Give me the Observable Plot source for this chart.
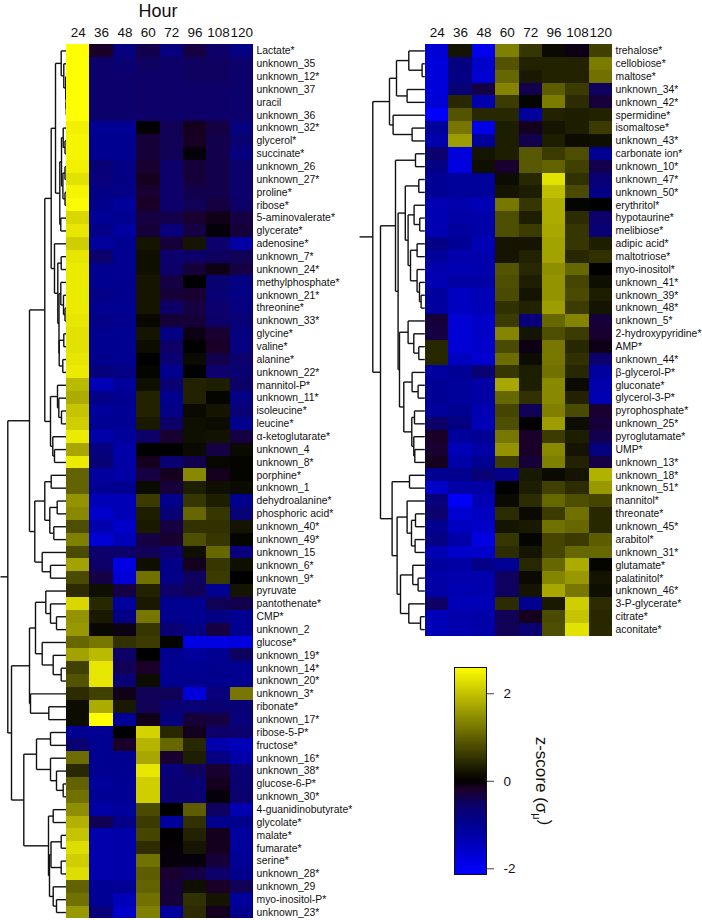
<!DOCTYPE html>
<html><head><meta charset="utf-8">
<style>html,body{margin:0;padding:0;background:#fff}#page{position:relative;width:702px;height:920px;overflow:hidden}#page svg{position:absolute;overflow:visible;background:transparent}</style>
<script src="https://cdn.jsdelivr.net/npm/d3@7"></script>
<script src="https://cdn.jsdelivr.net/npm/@observablehq/plot@0.6"></script>
</head><body><div id="page"></div>
<script>
const hours = ["24","36","48","60","72","96","108","120"];

const leftNames = ["Lactate*","unknown_35","unknown_12*","unknown_37","uracil","unknown_36","unknown_32*","glycerol*","succinate*","unknown_26","unknown_27*","proline*","ribose*","5-aminovalerate*","glycerate*","adenosine*","unknown_7*","unknown_24*","methylphosphate*","unknown_21*","threonine*","unknown_33*","glycine*","valine*","alanine*","unknown_22*","mannitol-P*","unknown_11*","isoleucine*","leucine*","α-ketoglutarate*","unknown_4","unknown_8*","porphine*","unknown_1","dehydroalanine*","phosphoric acid*","unknown_40*","unknown_49*","unknown_15","unknown_6*","unknown_9*","pyruvate","pantothenate*","CMP*","unknown_2","glucose*","unknown_19*","unknown_14*","unknown_20*","unknown_3*","ribonate*","unknown_17*","ribose-5-P*","fructose*","unknown_16*","unknown_38*","glucose-6-P*","unknown_30*","4-guanidinobutyrate*","glycolate*","malate*","fumarate*","serine*","unknown_28*","unknown_29","myo-inositol-P*","unknown_23*"];

const leftValues = [
[2.6,-.2,-.8,-.4,-.8,-.35,-.55,-.85],
[2.6,-.6,-.65,-.5,-.55,-.5,-.5,-.6],
[2.6,-.6,-.6,-.55,-.55,-.5,-.5,-.6],
[2.6,-.6,-.6,-.55,-.55,-.55,-.55,-.6],
[2.6,-.6,-.6,-.55,-.55,-.55,-.55,-.6],
[2.6,-.6,-.6,-.55,-.55,-.55,-.55,-.6],
[2.45,-1.05,-1.05,-.02,-.45,-.15,-.35,-.8],
[2.5,-1,-1,-.3,-.45,-.18,-.4,-.65],
[2.5,-1,-1,-.3,-.45,-.05,-.4,-.8],
[2.45,-.7,-.85,-.25,-.6,-.3,-.4,-.6],
[2.3,-.75,-.85,-.15,-.6,-.3,-.4,-.6],
[2.5,-.85,-.9,-.25,-.6,-.4,-.4,-.6],
[2.55,-.95,-1.1,-.2,-.6,-.45,-.35,-.55],
[2.2,-1.05,-1,-.35,-.4,-.25,-.12,-.35],
[2.35,-.9,-1.15,-.3,-.75,-.35,-.05,-.3],
[2.1,-1.1,-1,.2,-.3,.2,-.6,-1.2],
[2.35,-.6,-1,.15,-.6,-.55,-.5,-.45],
[2.4,-1,-1,.15,-.55,-.3,-.1,-.35],
[2.4,-1,-.95,.2,-.35,0,-.65,-.85],
[2.4,-.9,-.95,.2,-.3,-.25,-.7,-.85],
[2.4,-1,-1,.2,-.55,-.35,-.6,-.8],
[2.35,-.9,-.95,.08,-.3,-.3,-.55,-.7],
[2.3,-1,-1,.2,-.85,-.1,-.25,-.8],
[2.3,-1,-1,.12,-.55,0,-.2,-.8],
[2.35,-.95,-1,0,-.65,.1,-.4,-.6],
[2.4,-.8,-.85,.05,-.95,0,-.6,-.65],
[1.9,-1.4,-1.1,.15,-.65,.35,.3,-.55],
[1.75,-.9,-1,.35,-.95,.35,.05,-.85],
[2,-1.1,-1.05,.35,-.9,.1,.2,-.7],
[2.1,-1.05,-1.05,.25,-.55,.15,.12,-.95],
[2.4,-1.25,-1.1,-.55,-.25,.15,.18,-.35],
[1.7,-.8,-1.25,0,0,.1,-.35,.1],
[2.4,-.7,-1.2,-.15,-.65,-.4,.07,.05],
[1,-1.15,-1.2,-.35,-.15,1.4,-.15,.05],
[1,-1.05,-1,.1,-.3,.3,.15,.1],
[1.5,-1.4,-1.4,.6,-.95,.55,.3,-.95],
[1.4,-1.6,-1.4,.3,-.7,1.05,.55,-.7],
[.8,-1.3,-1.6,.25,-.35,.5,.5,.2],
[1.3,-1.7,-1.4,-.35,-.25,.8,.55,.05],
[.75,-.6,-.6,-.45,-.65,.15,1.05,-.75],
[1.65,-.55,-1.85,.15,-.9,-.15,.55,.15],
[.75,-.35,-1.7,1.15,-.9,-.5,.6,0],
[.45,.15,-.35,.35,-.55,-.45,-1,.2],
[2.2,.4,-1.1,.25,-1,-1,-.45,-.4],
[1.5,.25,-.9,1.2,-.95,-1,-.85,-1],
[1.55,.08,-.1,.55,-.65,-.85,-.35,-1],
[1.05,1.2,.5,.6,.05,-1.85,-1.85,-1.8],
[1.65,1.9,-.55,0,-.95,-1.1,-1,-.5],
[.65,2.35,-.45,-.2,-1,-1,-.95,-1],
[.85,2.35,-.7,.12,-1,-.95,-.95,-1],
[.45,.65,-.12,-.45,-.45,-1.75,-.75,1.2],
[.12,1.75,.25,-.45,-.65,-.7,-.65,-.7],
[.12,2.6,-1.05,-.12,-.8,-.3,-.35,-.75],
[-1,-1.05,0,2.15,.4,-.15,-.55,-.6],
[-.65,-1,-.2,1.85,1.05,.4,-1.3,-1.4],
[1.1,-1,-1,1.7,-.25,.3,-.85,-1.25],
[.4,-1,-1,2.35,-.75,-.5,-.25,-.65],
[1,-1.1,-1.05,2.1,-.65,-.7,-.15,-.65],
[1.15,-1.05,-1.05,2.1,-.65,-.65,-.05,-.6],
[1.45,-1.2,-1.1,.75,0,.95,-.5,-1.35],
[1.8,-.45,-.9,.6,-1.1,.5,-.95,-.95],
[2,-1.3,-1.25,.7,-.02,.35,-.15,-1.15],
[2.25,-1.3,-1.25,.45,-.04,.2,-.15,-1.1],
[2.1,-1.3,-1.25,1.15,-.05,-.05,-.3,-1.05],
[2.25,-1.3,-1.25,.95,-.25,-.35,-.55,-.95],
[1,-1.05,-1.05,1,-.3,.15,-.2,-.45],
[1.15,-1.05,-1.4,1.15,-.3,.5,.2,-1.15],
[1.55,-.75,-1.55,1.3,-1.1,.45,-.15,-.95]
];

const rightNames = ["trehalose*","cellobiose*","maltose*","unknown_34*","unknown_42*","spermidine*","isomaltose*","unknown_43*","carbonate ion*","unknown_10*","unknown_47*","unknown_50*","erythritol*","hypotaurine*","melibiose*","adipic acid*","maltotriose*","myo-inositol*","unknown_41*","unknown_39*","unknown_48*","unknown_5*","2-hydroxypyridine*","AMP*","unknown_44*","β-glycerol-P*","gluconate*","glycerol-3-P*","pyrophosphate*","unknown_25*","pyroglutamate*","UMP*","unknown_13*","unknown_18*","unknown_51*","mannitol*","threonate*","unknown_45*","arabitol*","unknown_31*","glutamate*","palatinitol*","unknown_46*","3-P-glycerate*","citrate*","aconitate*"];

const rightValues = [
[-1.7,.2,-1.95,1.3,.55,.1,-.1,.65],
[-1.75,-.8,-1.6,.85,.35,.35,.35,1.25],
[-1.75,-.85,-1.65,1.05,.25,.35,.35,1.15],
[-1.75,-.7,-.35,1.35,-.4,.95,.6,-.5],
[-1.7,.4,-1.3,.6,.05,1.25,.45,-.3],
[-2.1,.85,.4,.4,-1.1,.35,.3,.35],
[-1.1,1.2,-1.9,.3,-.15,.2,.3,.6],
[-1.3,1.6,-1.1,.3,-.4,.3,.12,.15],
[-.6,-1.75,.2,.3,.9,.6,.8,-1],
[-.85,-1.8,.15,-.25,.9,1,.65,-.4],
[-1.05,-1.1,-1.1,.12,.4,2.3,.5,-.7],
[-1.05,-1.1,-1.1,.2,.3,1.95,.75,-.85],
[-1.35,-1.3,-1.4,1.2,.55,1.75,.05,0],
[-1.35,-1.25,-1.25,.8,.3,1.75,.45,-.6],
[-1.35,-1.15,-1.25,.8,.6,1.7,.55,-.7],
[-.9,-1.05,-1.4,.2,.2,1.65,.55,.3],
[-1.1,-1.3,-1.3,.2,.35,1.65,.4,.5],
[-1.3,-1.35,-1.3,.85,.4,1.45,1.05,0],
[-1.35,-1.2,-1.2,.8,.3,1.5,.7,.15],
[-1.15,-1.5,-1.4,.75,.2,1.5,.75,.3],
[-1.15,-1.5,-1.4,.5,.35,1.6,.6,.2],
[-.3,-1.7,-1.55,.6,-.75,1.05,1.35,-.3],
[-.35,-1.7,-1.55,1.35,.2,.8,.6,-.25],
[.4,-1.7,-1.6,.75,-.1,1.2,.4,-.1],
[.4,-1.5,-1.65,1.1,.12,1.2,.5,-.6],
[-1.15,-1.05,-.65,.55,.3,1.15,.4,-1.15],
[-1.05,-1.1,-1.2,1.7,.3,1.4,.1,-1.3],
[-1.05,-1.1,-1.2,1.05,.5,1.4,.35,-1.35],
[-1.1,-1,-1.35,.7,-.45,1.3,.75,-.25],
[-.55,-.85,-1.4,.8,-.02,1.6,.12,-.3],
[-.2,-1.1,-1.05,1.2,-.2,.6,.3,-.4],
[-.25,-1.4,-1.2,1.5,-.2,1.4,.2,-.8],
[-.15,-1.25,-1,.6,-.3,1.3,.35,-.35],
[-1,-.95,-.7,-.9,.25,.1,.2,1.8],
[-1.55,-1.2,-1.2,-.02,.3,.65,.45,1.55],
[-.75,-2.05,-1.35,.1,.45,1.05,.8,.7],
[-.6,-1.65,-1.5,.45,.1,.6,1.15,.4],
[-1,-1.5,-1.55,.2,.25,1.15,1.05,.4],
[-.85,-1.25,-1.85,.55,.05,.7,.6,.95],
[-1.35,-1.6,-1.6,.45,.2,.7,1.05,1.05],
[-1.15,-1.2,-.9,-1.05,.4,1.05,1.75,.05],
[-1.25,-1.3,-1.3,-.5,.1,1.35,1.55,.2],
[-1.2,-1.35,-1.3,-.5,.2,1.7,1.2,.15],
[-.55,-1.4,-1.4,.45,-1,.25,2.1,.45],
[-1.4,-1.3,-1.25,-.45,-.15,.75,2,.4],
[-1.4,-1.3,-1.25,-.45,-.65,.8,2.3,.4]
];

// Dendrograms: [merge height, child, child]; a 0 is the next leaf in row order.
const leftTree = [58.7,
  [37,
    [21.7,
      [15.3,
        [11,
          [5.3,0,[2.7,0,[.8,0,[.4,0,[.2,0,0]]]]],
          [6.7,
            [5,[3.3,0,[1.5,0,0]],[3.6,[1.5,0,0],[1.5,0,0]]],
            [5.7,0,0]]],
        [12,0,
          [8.7,[5.3,0,0],
            [7.5,[5.7,0,[3,0,[1.5,0,0]]],[7.3,[2.7,0,0],[3.7,0,0]]]]]],
      [16,
        [9,0,[7.7,0,[5,0,0]]],
        [13.7,0,[12,0,0]]]],
    [31.7,
      [21.7,[15.3,0,0],[16.7,[9.3,0,0],[12.7,0,0]]],
      [24.3,0,[16,0,0]]]],
  [55,
    [37,
      [31,
        [20.7,0,[16,0,[10,0,0]]],
        [24.3,0,[13.3,0,[5.3,0,0]]]],
      [36,0,[17.7,0,0]]],
    [42.7,
      [30,[16,0,0],[16,0,[10,0,[3.3,0,0]]]],
      [18,
        [13.3,0,0],
        [17,
          [15.5,[5.3,0,0],[5.3,0,0]],
          [13.3,0,[10,0,0]]]]]]];
const leftStem = 66;

const rightTree = [52,
  [35.3,
    [28.3,[16,0,[2.7,0,0]],[17.7,0,0]],
    [31.7,0,[12.7,0,0]]],
  [44.3,
    [29.3,
      [9.3,0,0],
      [26.7,
        [19.5,
          [6,0,0],
          [16.7,
            [10.7,0,[5,0,0]],
            [14.3,[7.7,0,0],[7.7,0,[5.3,0,[3.7,0,0]]]]]],
        [25.3,
          [16.7,0,[11,0,[6,0,0]]],
          [21,
            [12.7,0,[6.7,0,0]],
            [13,[10.3,0,0],[11,0,[10,0,0]]]]]]],
    [32.7,
      [15.3,0,0],
      [27.7,
        [17.7,0,[13.3,[9.3,0,0],[9.7,0,0]]],
        [24.3,
          [12,0,[6.7,0,0]],
          [16,0,[4.3,0,0]]]]]]];
const rightStem = 65.3;

const colorDomain = [-2.13,-1.0,-.55,-.2,0,2.6];
const colorRange = ["#0000ff","#000090","#0c0068","#1a0028","#000000","#ffff00"];
const legendTicks = [-2,0,2];
const FONT = "'Liberation Sans', Arial, sans-serif";
const colorScale = {type:"linear",domain:colorDomain,range:colorRange,interpolate:"rgb",clamp:true};
const rowH = 12.86, heatTop = 44;
const page = document.getElementById("page");
function place(svg,left,top){svg.style.left=left+"px";svg.style.top=top+"px";page.appendChild(svg);return svg;}

function layoutTree(tree){
  const segs=[];let next=0;
  const root=(function walk(n){
    if(n===0)return {h:0,y:next++ + .5};
    const a=walk(n[1]),b=walk(n[2]);
    segs.push({x1:n[0],x2:n[0],y1:a.y,y2:b.y});
    segs.push({x1:a.h,x2:n[0],y1:a.y,y2:a.y});
    segs.push({x1:b.h,x2:n[0],y1:b.y,y2:b.y});
    return {h:n[0],y:(a.y+b.y)/2};
  })(tree);
  return {segs,root};
}

function dendro(tree,stem,n,w){
  const {segs,root}=layoutTree(tree);
  segs.push({x1:root.h,x2:stem,y1:root.y,y2:root.y});
  return Plot.plot({
    width:w,height:heatTop+n*rowH,marginLeft:0,marginRight:0,marginTop:heatTop,marginBottom:0,
    x:{domain:[stem,0],axis:null},y:{domain:[0,n],reverse:true,axis:null},
    marks:[Plot.link(segs,{x1:"x1",x2:"x2",y1:"y1",y2:"y2",stroke:"#111",strokeWidth:1.4})]
  });
}

function heat(names,values,w,title){
  const cells=names.flatMap((name,i)=>hours.map((hour,j)=>({name,hour,z:values[i][j]})));
  const marks=[
    Plot.cell(cells,{x:"hour",y:"name",fill:"z",shapeRendering:"crispEdges"}),
    Plot.axisX({anchor:"top",tickSize:0,tickPadding:7,fontSize:13.5,label:null,fontFamily:FONT,fill:"#111"}),
    Plot.axisY({anchor:"right",tickSize:0,tickPadding:3,fontSize:10.4,label:null,fontFamily:FONT,fill:"#111"})
  ];
  if(title)marks.push(Plot.text([title],{frameAnchor:"top",dy:-40.5,dx:-2,fontSize:18,fontFamily:FONT,fill:"#111"}));
  return Plot.plot({
    width:w+130,height:heatTop+names.length*rowH,marginLeft:0,marginRight:130,marginTop:heatTop,marginBottom:0,
    x:{domain:hours,padding:0,round:false,axis:null},
    y:{domain:names,padding:0,round:false,axis:null},
    color:colorScale,
    style:{fontFamily:FONT},
    marks
  });
}

place(dendro(leftTree,leftStem,leftNames.length,66),0,0);
place(heat(leftNames,leftValues,187,"Hour"),66,0);
place(dendro(rightTree,rightStem,rightNames.length,65.3),359,0);
place(heat(rightNames,rightValues,187,null),424.5,0);

// Colour bar
const legendSteps=d3.range(-2.13,2.6,.02);
const bar=Plot.plot({
  width:32+110,height:207,marginLeft:0,marginRight:110,marginTop:0,marginBottom:0,
  x:{domain:[0,1],axis:null},
  y:{domain:[-2.13,2.6],axis:null},
  color:colorScale,
  style:{fontFamily:FONT},
  marks:[
    Plot.rect(legendSteps,{x1:0,x2:1,y1:d=>d,y2:d=>d+.021,fill:d=>d,shapeRendering:"crispEdges"}),
    Plot.frame({stroke:"#111",strokeWidth:1}),
    Plot.axisY({anchor:"right",ticks:legendTicks,tickFormat:d=>String(d),tickSize:7,tickPadding:10,fontSize:13.5,label:null,fontFamily:FONT,stroke:"#444",fill:"#111"}),
    Plot.text(["z-score (σμ)"],{frameAnchor:"left",dx:87,dy:10,rotate:90,textAnchor:"middle",fontSize:17,fontFamily:FONT,fill:"#111"})
  ]
});
place(bar,454,667);
d3.select(bar).selectAll("text").filter(function(){return this.textContent==="z-score (σμ)";}).each(function(){
  const t=d3.select(this);const tgt=t.select("tspan").empty()?t:t.select("tspan");
  tgt.text("z-score (σ");
  tgt.append("tspan").attr("dy","0.3em").attr("font-size","11").text("μ");
  tgt.append("tspan").attr("dy","-0.45em").text(")");
});
</script></body></html>
